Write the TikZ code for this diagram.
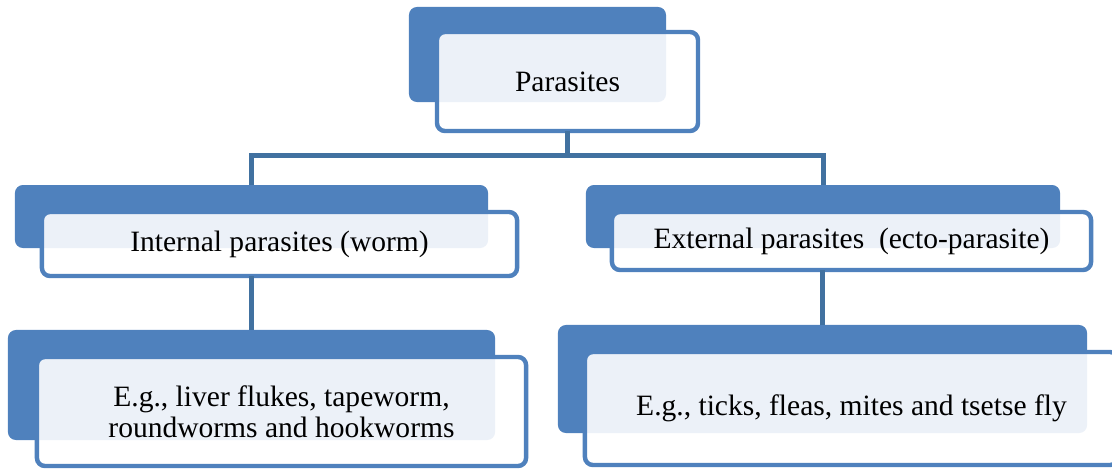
\documentclass[tikz,border=0pt]{standalone}
\usepackage{fontspec}
\setmainfont{Liberation Serif}
\usepackage{xcolor}
\usepackage{tikz}
\usetikzlibrary{positioning, calc}

\definecolor{boxblue}{RGB}{79,129,189}
\definecolor{linkblue}{RGB}{65,113,160}
\definecolor{paleblue}{RGB}{236,241,248}

\tikzset{
  back/.style={fill=boxblue, draw=none, rounded corners=0.2cm, inner sep=0pt, outer sep=0pt},
  front/.style={fill=white, draw=boxblue, line width=0.11cm, rounded corners=0.2cm,
    inner sep=0pt, outer sep=0pt, align=center, font=\fontsize{21}{22}\selectfont,
    path picture={\fill[paleblue] (#1.south west) rectangle (#1.north east);}},
  link/.style={draw=linkblue, line width=0.125cm}
}

\begin{document}
\begin{tikzpicture}[x=0.025cm, y=-0.025cm]
    \useasboundingbox (0,0) rectangle (1112,470);

    % top
    \node[back, minimum width=6.425cm, minimum height=2.375cm] at (537.5,54.5) (bk0) {};
    \node[front=bk0, minimum width=6.525cm, minimum height=2.475cm] at (567.5,81.5) (fr0) {Parasites};

    % second row
    \node[back, minimum width=11.825cm, minimum height=1.575cm] at (251.5,216.5) (bk1) {};
    \node[front=bk1, minimum width=11.875cm, minimum height=1.6cm] at (279.5,244) (fr1) {Internal parasites (worm)};

    \node[back, minimum width=11.85cm, minimum height=1.575cm] at (823,216.5) (bk2) {};
    \node[front=bk2, minimum width=11.975cm, minimum height=1.45cm] at (851.5,241) (fr2) {External parasites~~(ecto-parasite)};

    % third row
    \node[back, minimum width=12.175cm, minimum height=2.75cm] at (251.5,385) (bk3) {};
    \node[front=bk3, minimum width=12.225cm, minimum height=2.725cm] at (281.5,411.5) (fr3) {E.g., liver flukes, tapeworm,\\roundworms and hookworms};

    \node[back, minimum width=13.225cm, minimum height=2.7cm] at (822.5,379) (bk4) {};
    \node[front=bk4, minimum width=13.325cm, minimum height=2.825cm] at (851.5,408.5) (fr4) {E.g., ticks, fleas, mites and tsetse fly};

    % connectors
    \coordinate (jn) at ($(fr0.south)+(0,24)$);
    \draw[link] (fr0.south) -- (jn);
    \draw[link] (bk1.north) |- (jn) -| (bk2.north);
    \draw[link] (fr1.south -| bk3.north) -- (bk3.north);
    \draw[link] (fr2.south -| bk4.north) -- (bk4.north);
  \end{tikzpicture}
\end{document}
